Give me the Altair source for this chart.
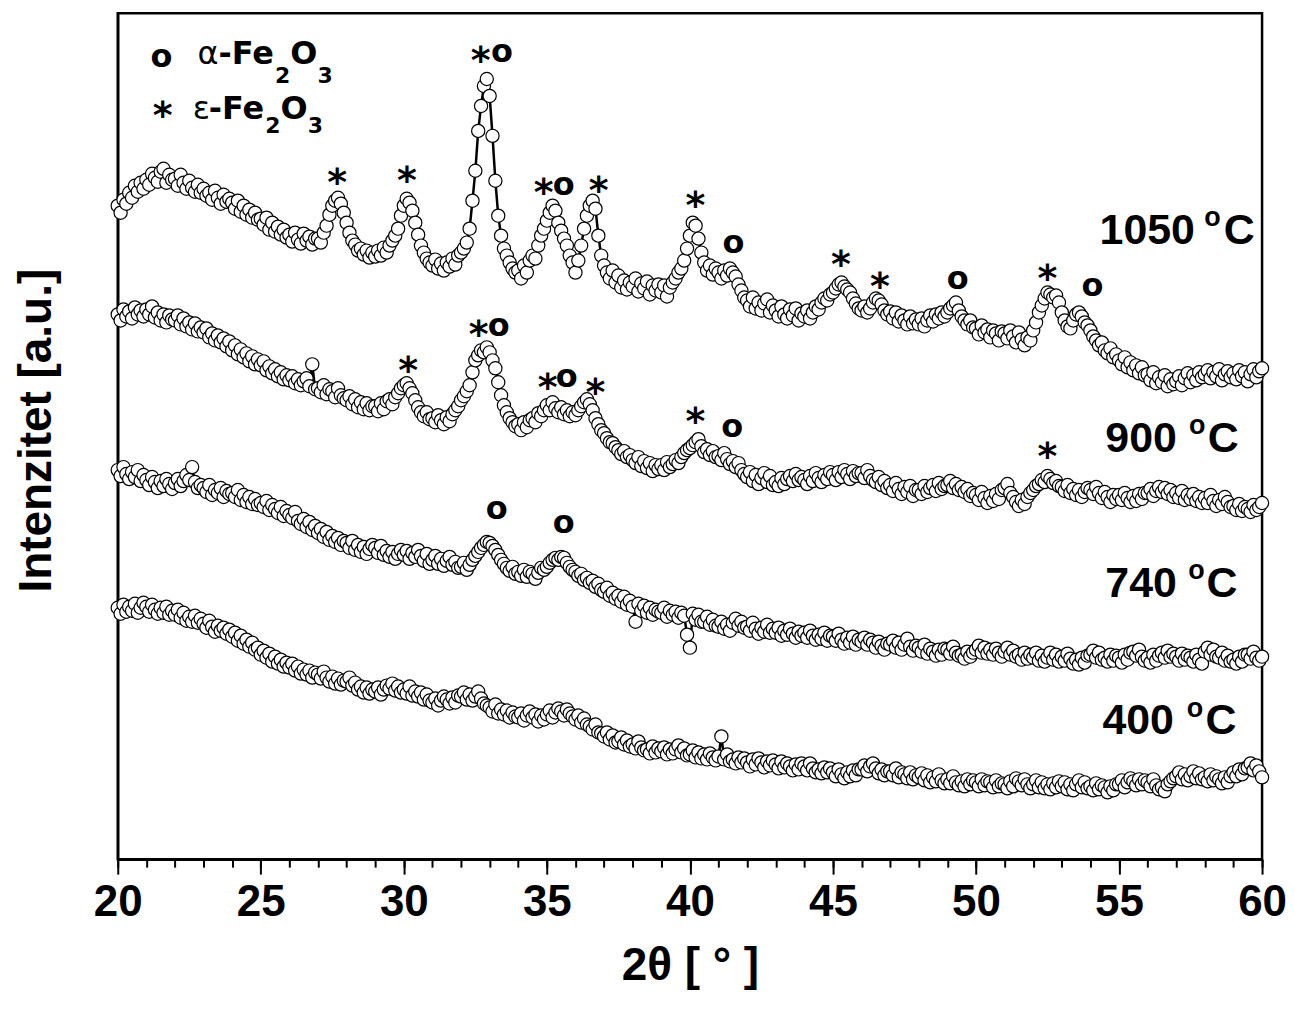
import altair as alt
import pandas as pd

# ---------------- data ----------------
two_theta_start = 20.0
two_theta_step = 0.1

i_1050 = [
    795, 788, 801, 797, 808, 803, 815, 809, 818, 812,
    821, 816, 827, 823, 819, 829, 832, 818, 826, 821,
    822, 815, 826, 818, 812, 820, 813, 809, 816, 808,
    812, 805, 808, 801, 810, 803, 797, 806, 799, 802,
    798, 792, 800, 789, 795, 786, 791, 783, 788, 781,
    782, 776, 783, 771, 778, 769, 774, 766, 771, 763,
    766, 759, 768, 761, 757, 767, 760, 764, 756, 762,
    762, 758, 768, 775, 786, 795, 800, 803, 797, 788,
    778, 768, 760, 756, 750, 752, 746, 750, 743, 748,
    744, 750, 745, 753, 748, 755, 760, 765, 772, 785,
    795, 802, 798, 790, 778, 766, 755, 748, 742, 738,
    735, 741, 732, 737, 730, 738, 734, 742, 736, 745,
    748, 752, 758, 772, 800, 830, 870, 895, 915, 922,
    905, 865, 820, 785, 765, 752, 745, 738, 732, 728,
    730, 722, 735, 728, 740, 745, 742, 755, 765, 772,
    780, 788, 795, 790, 778, 770, 762, 755, 745, 738,
    728, 740, 755, 772, 785, 795, 800, 792, 765, 745,
    735, 728, 722, 730, 718, 725, 713, 720, 711, 718,
    714, 722, 709, 717, 712, 719, 706, 715, 710, 716,
    708, 715, 704, 713, 718, 722, 728, 732, 740, 752,
    765, 778, 775, 762, 748, 738, 730, 735, 726, 732,
    728, 722, 730, 725, 732, 728, 724, 716, 710, 703,
    700, 694, 703, 692, 698, 690, 697, 701, 688, 695,
    690, 684, 694, 686, 682, 691, 685, 692, 680, 687,
    684, 690, 682, 688, 694, 691, 698, 702, 700, 706,
    708, 712, 716, 718, 714, 711, 708, 702, 697, 692,
    690, 694, 688, 692, 698, 702, 700, 696, 690, 686,
    689, 682, 688, 679, 685, 680, 676, 684, 677, 681,
    676, 682, 674, 680, 685, 679, 686, 682, 688, 684,
    688, 692, 695, 698, 690, 684, 680, 676, 680, 673,
    672, 666, 675, 668, 671, 663, 670, 667, 660, 669,
    667, 662, 670, 664, 658, 668, 661, 655, 663, 660,
    670, 678, 688, 695, 702, 708, 706, 703, 705, 698,
    688, 680, 674, 672, 680, 686, 688, 684, 678, 675,
    670, 664, 660, 655, 658, 650, 647, 652, 643, 646,
    640, 636, 643, 633, 638, 630, 635, 627, 633, 625,
    626, 620, 628, 617, 623, 618, 625, 614, 621, 616,
    619, 624, 615, 622, 627, 618, 625, 620, 628, 623,
    626, 630, 622, 628, 624, 631, 620, 626, 629, 623,
    627, 621, 630, 624, 628, 619, 626, 631, 623, 629,
    632,
]

i_900 = [
    686, 680, 691, 684, 689, 682, 693, 686, 690, 684,
    691, 686, 694, 683, 688, 680, 686, 678, 685, 681,
    680, 685, 676, 682, 674, 678, 671, 677, 669, 673,
    668, 672, 663, 667, 660, 665, 658, 662, 654, 659,
    650, 655, 646, 651, 643, 647, 639, 644, 636, 641,
    635, 639, 630, 634, 627, 631, 624, 628, 621, 625,
    620, 624, 617, 621, 615, 619, 622, 614, 636, 611,
    612, 608, 615, 606, 611, 609, 603, 612, 605, 602,
    600, 604, 596, 601, 593, 598, 591, 597, 590, 594,
    594, 589, 597, 591, 599, 601, 596, 603, 607, 612,
    615, 617, 612, 607, 600, 593, 588, 584, 588, 581,
    582, 578, 585, 580, 576, 583, 579, 586, 590, 594,
    600, 604, 609, 615, 628, 640, 645, 650, 648, 653,
    648, 640, 632, 618, 605, 595, 588, 582, 578, 574,
    576, 570, 578, 573, 580, 582, 578, 587, 584, 590,
    595, 590, 598, 592, 588, 593, 586, 590, 584, 588,
    585, 590, 594, 598, 601, 596, 590, 582, 576, 570,
    567, 562, 558, 557, 553, 550, 546, 549, 543, 545,
    540, 537, 543, 534, 539, 532, 537, 529, 535, 531,
    535, 530, 538, 533, 536, 540, 537, 543, 547, 550,
    552, 555, 558, 561, 554, 548, 551, 545, 549, 543,
    544, 540, 547, 541, 536, 539, 533, 537, 530, 526,
    523, 528, 519, 525, 516, 522, 527, 518, 524, 515,
    518, 514, 522, 516, 521, 524, 519, 526, 520, 523,
    520, 516, 524, 519, 527, 522, 518, 525, 521, 528,
    525, 520, 528, 523, 530, 526, 521, 529, 524, 527,
    527, 522, 530, 524, 520, 518, 523, 515, 519, 512,
    515, 509, 517, 511, 506, 513, 508, 514, 504, 510,
    510, 506, 514, 508, 512, 515, 509, 517, 511, 514,
    515, 519, 512, 516, 510, 513, 508, 511, 504, 507,
    505, 500, 508, 502, 497, 504, 499, 506, 501, 510,
    512, 516, 507, 503, 498, 494, 500, 496, 503, 507,
    510, 514, 516, 520, 518, 524, 521, 517, 519, 514,
    513, 509, 515, 507, 511, 505, 510, 503, 508, 512,
    510, 506, 513, 507, 502, 508, 503, 498, 505, 501,
    505, 500, 507, 502, 498, 504, 499, 506, 501, 507,
    507, 511, 504, 509, 513, 508, 512, 506, 510, 503,
    507, 502, 509, 500, 505, 501, 506, 499, 503, 497,
    502, 497, 505, 499, 494, 500, 496, 503, 498, 493,
    494, 490, 496, 489, 493, 491, 488, 495, 490, 493,
    497,
]

i_740 = [
    530, 524, 533, 526, 521, 528, 523, 530, 519, 525,
    520, 515, 523, 518, 512, 519, 514, 521, 516, 511,
    517, 521, 514, 519, 525, 520, 533, 518, 512, 515,
    512, 508, 515, 505, 510, 507, 512, 503, 509, 506,
    507, 503, 510, 500, 505, 498, 503, 496, 501, 495,
    497, 493, 499, 490, 495, 491, 487, 493, 484, 489,
    485, 482, 488, 479, 476, 481, 473, 478, 470, 474,
    467, 471, 463, 468, 460, 464, 458, 462, 455, 459,
    457, 452, 459, 450, 455, 448, 453, 446, 451, 455,
    452, 447, 454, 445, 449, 443, 448, 441, 446, 450,
    445, 449, 441, 447, 443, 450, 444, 439, 446, 436,
    440, 444, 436, 441, 434, 439, 443, 435, 438, 432,
    433, 437, 430, 435, 440, 444, 448, 452, 455, 458,
    457, 454, 450, 445, 440, 436, 432, 429, 433, 426,
    428, 424, 430, 423, 428, 426, 421, 427, 432, 430,
    433, 437, 440, 442, 440, 443, 442, 437, 433, 430,
    428, 424, 426, 420, 422, 417, 419, 413, 416, 410,
    408, 412, 404, 407, 401, 404, 398, 403, 395, 399,
    393, 378, 396, 389, 394, 387, 392, 385, 390, 388,
    387, 392, 383, 389, 385, 388, 382, 387, 384, 365,
    352, 386, 380, 385, 378, 378, 383, 375, 380, 374,
    373, 378, 371, 375, 369, 377, 381, 374, 378, 372,
    373, 369, 377, 371, 366, 372, 368, 375, 367, 371,
    367, 372, 364, 369, 365, 371, 366, 362, 368, 364,
    367, 362, 369, 364, 360, 365, 361, 367, 359, 364,
    363, 359, 366, 360, 356, 362, 357, 363, 355, 360,
    358, 362, 355, 360, 357, 352, 358, 354, 350, 356,
    355, 359, 352, 357, 350, 355, 361, 353, 349, 354,
    352, 348, 355, 346, 351, 348, 344, 350, 345, 351,
    350, 346, 353, 347, 344, 345, 341, 348, 343, 347,
    350, 354, 347, 352, 346, 350, 345, 351, 347, 343,
    348, 352, 345, 349, 343, 345, 340, 347, 341, 345,
    342, 347, 339, 344, 338, 342, 347, 340, 345, 338,
    343, 339, 346, 341, 336, 340, 335, 342, 337, 344,
    345, 349, 342, 347, 340, 342, 338, 345, 339, 344,
    342, 337, 345, 340, 347, 348, 344, 350, 343, 339,
    342, 337, 345, 339, 344, 347, 342, 349, 343, 346,
    343, 339, 346, 340, 344, 342, 338, 345, 340, 336,
    348, 352, 345, 350, 343, 342, 347, 339, 344, 338,
    340, 336, 343, 338, 345, 345, 341, 348, 342, 339,
    343,
]

i_400 = [
    392, 386, 395, 388, 393, 389, 396, 387, 392, 397,
    393, 388, 395, 390, 386, 392, 387, 393, 385, 389,
    385, 390, 382, 387, 379, 383, 378, 384, 377, 381,
    376, 372, 379, 373, 368, 374, 369, 372, 366, 370,
    363, 367, 359, 364, 356, 360, 353, 357, 350, 352,
    345, 349, 342, 346, 338, 343, 336, 340, 333, 337,
    332, 336, 329, 333, 326, 330, 325, 329, 322, 327,
    325, 321, 328, 322, 318, 323, 316, 321, 315, 319,
    318, 322, 314, 317, 310, 313, 307, 312, 306, 310,
    308, 312, 305, 310, 314, 311, 316, 309, 313, 307,
    310, 306, 313, 304, 308, 303, 307, 300, 305, 299,
    297, 301, 294, 299, 303, 300, 296, 302, 297, 304,
    303, 307, 300, 305, 299, 303, 308, 301, 296, 294,
    292, 288, 295, 286, 290, 285, 289, 282, 287, 283,
    282, 286, 279, 284, 288, 282, 285, 278, 284, 280,
    285, 289, 282, 287, 291, 288, 284, 290, 286, 283,
    280, 284, 277, 281, 275, 273, 270, 275, 267, 266,
    263, 267, 260, 264, 257, 258, 262, 255, 259, 253,
    255, 251, 258, 252, 249, 250, 246, 253, 247, 251,
    248, 252, 245, 250, 246, 250, 254, 247, 251, 244,
    245, 249, 242, 247, 241, 245, 240, 246, 242, 239,
    243, 263, 240, 245, 238, 240, 236, 242, 237, 241,
    237, 233, 240, 235, 241, 237, 232, 238, 234, 239,
    235, 231, 238, 232, 236, 233, 229, 235, 230, 236,
    233, 229, 236, 231, 227, 230, 226, 232, 227, 231,
    227, 223, 230, 225, 221, 227, 223, 229, 224, 230,
    230, 234, 228, 233, 236, 231, 226, 230, 224, 228,
    228, 224, 231, 222, 227, 225, 221, 227, 220, 224,
    222, 226, 219, 224, 217, 222, 218, 225, 219, 216,
    220, 216, 223, 217, 214, 218, 213, 220, 215, 219,
    217, 213, 220, 214, 218, 217, 212, 219, 213, 216,
    215, 211, 218, 213, 221, 218, 214, 220, 215, 211,
    215, 219, 212, 217, 211, 215, 210, 216, 212, 218,
    213, 217, 210, 215, 209, 215, 219, 212, 217, 211,
    213, 209, 216, 210, 214, 212, 207, 213, 209, 215,
    215, 219, 212, 217, 221, 218, 214, 220, 215, 219,
    217, 213, 220, 214, 210, 212, 208, 215, 218, 221,
    223, 227, 220, 225, 219, 223, 228, 221, 226, 220,
    222, 218, 225, 219, 223, 220, 216, 222, 217, 223,
    227, 223, 230, 225, 231, 232, 236, 229, 234, 228,
    222,
]

series_names = ["1050 °C", "900 °C", "740 °C", "400 °C"]
major_ticks = [20, 25, 30, 35, 40, 45, 50, 55, 60]
minor_ticks = list(range(20, 61))

# temperature labels: number, superscript "o", "C" (left edges), baseline
lab_num = ["1050", "900", "740", "400"]
lab_num_x = [54.32, 54.52, 54.52, 54.42]
lab_deg_x = [57.98, 57.45, 57.42, 57.37]
lab_c_x = [58.66, 58.10, 58.06, 58.02]
lab_y = [757, 548, 403, 265]

# peak markers (visual centres): epsilon-Fe2O3 "*" and alpha-Fe2O3 "o"
star_x = [21.57, 27.67, 30.11, 32.69, 34.89, 36.81, 40.19, 45.28, 46.64, 52.50,
          30.15, 32.62, 35.03, 36.70, 40.19, 52.50]
star_y = [895, 828, 830, 950, 818, 820, 805, 746, 723, 731,
          639, 675, 622, 617, 588, 553]
circ_x = [21.53, 33.43, 35.59, 41.52, 49.36, 54.07,
          33.32, 35.69, 41.48, 33.25, 35.59]
circ_y = [943, 948, 815, 757, 721, 713,
          673, 622, 572, 490, 476]

# legend text pieces (left edge, baseline, font size)
leg_text = ["-Fe", "2", "O", "3", "-Fe", "2", "O", "3"]
leg_x = [23.52, 25.50, 26.03, 26.98, 23.18, 25.16, 25.69, 26.64]
leg_y = [937, 918, 937, 918, 882, 868, 882, 868]
leg_size = [32, 22, 32, 22, 32, 22, 32, 22]
greek_text = ["α", "ε"]
greek_x = [22.79, 22.62]
greek_y = [937, 882]

# ---------------- tables ----------------
n = len(i_1050)
two_theta = [round(two_theta_start + k * two_theta_step, 2) for k in range(n)]
rows = []
for name, vals in zip(series_names, [i_1050, i_900, i_740, i_400]):
    for t, v in zip(two_theta, vals):
        rows.append({"t": t, "I": v, "s": name})
df = pd.DataFrame(rows)

num_df = pd.DataFrame({"t": lab_num_x, "I": lab_y, "txt": lab_num})
deg_df = pd.DataFrame({"t": lab_deg_x, "I": lab_y, "txt": ["o"] * 4})
c_df = pd.DataFrame({"t": lab_c_x, "I": lab_y, "txt": ["C"] * 4})
star_df = pd.DataFrame({"t": star_x, "I": star_y, "txt": ["*"] * len(star_x)})
circ_df = pd.DataFrame({"t": circ_x, "I": circ_y, "txt": ["o"] * len(circ_x)})
leg_df = pd.DataFrame({"t": leg_x, "I": leg_y, "txt": leg_text, "fs": leg_size})
greek_df = pd.DataFrame({"t": greek_x, "I": greek_y, "txt": greek_text})

FONT = "Liberation Sans"
XS = alt.Scale(domain=[20, 60], nice=False, zero=False)
YS = alt.Scale(domain=[140, 988], nice=False, zero=False)

major_axis = alt.Axis(
    orient="bottom", values=major_ticks, format="d",
    tickSize=15, tickWidth=2, tickColor="black",
    domainColor="black", domainWidth=2.5,
    labelFont=FONT, labelFontSize=44, labelFontWeight="bold", labelColor="black",
    labelPadding=6, labelFlush=False, labelOverlap=False,
    grid=False,
    title="2θ [ ° ]", titleFont=FONT, titleFontSize=46, titleFontWeight="bold",
    titleColor="black", titleBaseline="alphabetic", titleY=121,
)
minor_axis = alt.Axis(
    orient="bottom", values=minor_ticks, labels=False, domain=False,
    tickSize=8, tickWidth=2, tickColor="black", grid=False, title=None,
)
y_axis = alt.Axis(
    orient="left", ticks=False, labels=False, grid=False,
    domainColor="black", domainWidth=2.5,
    title="Intenzitet [a.u.]", titleFont=FONT, titleFontSize=46, titleFontWeight="bold",
    titleColor="black", titleX=-81, titleY=418, titleAngle=270,
    titleAlign="center", titleBaseline="middle",
)

def xn():
    return alt.X("t:Q", scale=XS, axis=None)

def yn():
    return alt.Y("I:Q", scale=YS, axis=None)

lines = alt.Chart(df).mark_line(color="black", strokeWidth=2.5).encode(
    x=alt.X("t:Q", scale=XS, axis=major_axis),
    y=alt.Y("I:Q", scale=YS, axis=y_axis),
    detail="s:N", order="t:Q",
)
points = alt.Chart(df).mark_point(
    shape="circle", filled=True, fill="white", stroke="black",
    strokeWidth=1.2, size=175, opacity=1, fillOpacity=1, strokeOpacity=1,
).encode(x=alt.X("t:Q", scale=XS, axis=minor_axis), y=yn())

def txt(data, **kw):
    return alt.Chart(data).mark_text(color="black", baseline="alphabetic", **kw).encode(
        x=xn(), y=yn(), text="txt:N"
    )

nums = txt(num_df, font=FONT, fontSize=43, fontWeight="bold", align="left")
degs = txt(deg_df, font=FONT, fontSize=27, fontWeight="bold", align="left", dy=-18)
cs = txt(c_df, font=FONT, fontSize=43, fontWeight="bold", align="left")
stars = txt(star_df, font="DejaVu Sans", fontSize=38, fontWeight="bold", align="center", dy=22)
circs = txt(circ_df, font="DejaVu Sans", fontSize=32, fontWeight="bold", align="center", dy=9)
legend_txt = alt.Chart(leg_df).mark_text(
    font="DejaVu Sans", fontWeight="bold", align="left", baseline="alphabetic", color="black",
).encode(x=xn(), y=yn(), text="txt:N", size=alt.Size("fs:Q", scale=None, legend=None))
greek = txt(greek_df, font="DejaVu Sans", fontSize=32, fontWeight="normal", align="left")

chart = alt.layer(lines, points, nums, degs, cs, stars, circs, legend_txt, greek).resolve_axis(
    x="independent", y="independent"
).properties(
    width=1147, height=848,
    autosize=alt.AutoSizeParams(type="none"),
    padding={"left": 110, "top": 4, "right": 25, "bottom": 140},
    background="white",
).configure_view(stroke="black", strokeWidth=2.5)

chart.save("out.html", embed_options={"renderer": "svg", "actions": False})
